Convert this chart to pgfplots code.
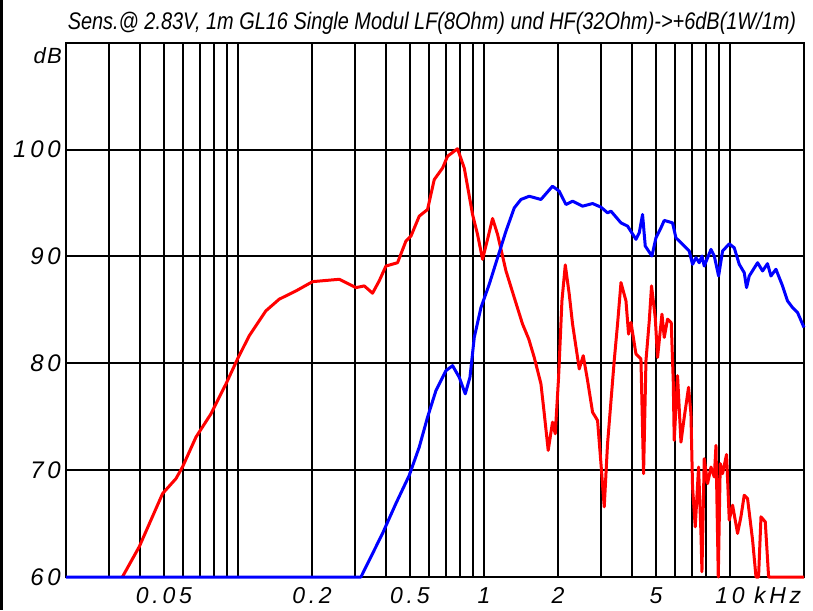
\documentclass[border=0pt]{standalone}
\usepackage{pgfplots}
\pgfplotsset{compat=1.18}
\usepackage{pgfplotstable}
\usepackage{fontspec}
\usepackage{graphicx}
\setmainfont{Liberation Sans}
\newfontfamily\lblfont[LetterSpace=16]{Liberation Sans}
\newfontfamily\dbfont[LetterSpace=6]{Liberation Sans}
\definecolor{cred}{RGB}{255,0,0}
\definecolor{cblue}{RGB}{0,0,255}

\pgfplotstableread{
f db
0.0339 60
0.0397 62.83
0.0494 67.81
0.0560 69.21
0.0595 70.29
0.0675 73.09
0.0777 75.27
0.0894 78.07
0.0996 80.40
0.1111 82.57
0.1299 84.91
0.1472 86.00
0.1721 86.77
0.2011 87.64
0.2581 87.86
0.3018 87.08
0.3262 87.24
0.3525 86.56
0.3752 87.71
0.3996 89.10
0.4454 89.41
0.4818 91.44
0.5050 91.90
0.5458 93.77
0.5898 94.39
0.6280 97.19
0.6788 98.27
0.7112 99.37
0.7807 100.08
0.8318 98.27
0.8988 93.93
0.9418 92.06
0.9870 89.73
1.034 91.59
1.084 93.55
1.136 92.06
1.229 88.64
1.328 86.15
1.435 83.67
1.521 82.27
1.601 80.55
1.705 78.07
1.759 75.27
1.825 71.85
1.900 74.49
1.949 73.40
2.011 78.69
2.075 85.84
2.141 89.20
2.222 86.46
2.292 83.67
2.440 79.47
2.533 80.71
2.638 78.38
2.764 75.42
2.896 74.65
2.990 70.61
3.083 66.56
3.180 72.47
3.385 80.24
3.492 83.67
3.606 87.55
3.779 85.84
3.872 82.73
3.960 83.82
4.149 80.87
4.347 80.40
4.455 69.67
4.556 80.24
4.699 83.97
4.800 87.24
4.969 84.28
5.078 80.55
5.292 84.60
5.407 82.42
5.576 84.13
5.772 83.79
5.881 78.38
5.936 72.78
6.124 78.84
6.322 72.62
6.520 74.95
6.788 77.75
6.942 75.27
7.047 68.42
7.227 64.69
7.455 70.29
7.624 64.08
7.696 60.49
7.863 71.07
8.110 68.74
8.373 70.29
8.636 69.36
8.774 72.31
8.965 60.0
9.132 70.61
9.331 69.67
9.688 71.47
9.935 65.32
10.25 66.72
10.74 64.08
11.08 65.63
11.43 67.65
11.79 67.34
12.36 63.45
12.76 60
13.07 60
13.37 65.63
13.92 65.16
14.36 60
20 60
}\lfdata

\pgfplotstableread{
f db
0.02 60
0.3162 60
0.3871 64.08
0.4387 66.88
0.4969 69.51
0.5458 72.16
0.5898 74.95
0.6380 77.44
0.7005 79.31
0.7456 79.78
0.7935 78.69
0.8395 77.14
0.8772 78.69
0.9134 82.42
0.9723 85.21
1.051 87.40
1.136 89.88
1.229 92.37
1.328 94.54
1.414 95.33
1.528 95.63
1.705 95.33
1.900 96.57
2.024 96.10
2.154 94.86
2.292 95.17
2.517 94.70
2.764 94.95
2.990 94.61
3.180 94.08
3.282 94.24
3.606 93.14
3.835 92.84
4.149 91.60
4.279 92.21
4.413 93.93
4.526 90.97
4.818 90.04
5.002 91.74
5.243 92.68
5.407 93.37
5.843 93.14
6.032 91.74
6.624 90.81
6.832 90.50
7.047 89.26
7.275 89.88
7.504 89.41
7.696 90.04
7.863 89.10
8.373 90.66
8.636 90.04
8.992 88.17
9.331 90.50
9.935 91.18
10.41 90.81
10.91 89.26
11.43 88.48
11.68 87.08
11.98 88.17
12.95 89.41
13.57 88.64
14.21 89.32
14.68 88.17
15.38 88.80
16.36 87.24
17.14 85.84
17.97 85.21
18.83 84.75
20 83.35
}\hfdata

\begin{document}
\begin{tikzpicture}
\useasboundingbox (-66pt,-33pt) rectangle (747pt,577pt);
\fill[black] (-66pt,-33pt) rectangle (-63pt,577pt);
\begin{axis}[
  at={(0pt,0pt)}, anchor=south west,
  scale only axis, width=738pt, height=534.3pt,
  xmode=log, xmin=0.02, xmax=20, ymin=60, ymax=110,
  xtick={0.05,0.2,0.5,1,2,5,10},
  xticklabels={0.05,0.2,0.5,1,2,5,10},
  minor xtick={0.03,0.04,0.05,0.06,0.07,0.08,0.09,0.1,0.2,0.3,0.4,0.5,0.6,0.7,0.8,0.9,1,2,3,4,5,6,7,8,9,10},
  ytick={60,70,80,90,100},
  yticklabels={60,70,80,90,100},
  xmajorgrids=false, xminorgrids=true, ymajorgrids=true,
  minor grid style={black, line width=2pt},
  major grid style={black, line width=2pt},
  axis line style={black, line width=2pt},
  major tick length=0pt, minor tick length=0pt,
  xticklabel style={font=\lblfont\itshape\fontsize{23}{23}\selectfont, anchor=base, yshift=-26pt, inner sep=0pt},
  yticklabel style={font=\lblfont\itshape\fontsize{24}{24}\selectfont, anchor=east, xshift=-5pt, inner sep=0pt},
  clip=false,
]
\addplot[cred, line width=3pt, line join=round] table[x=f, y=db] {\lfdata};
\addplot[cblue, line width=3pt, line join=round] table[x=f, y=db] {\hfdata};
\node[anchor=base west, font=\lblfont\itshape\fontsize{23}{23}\selectfont, inner sep=0pt] at (axis cs:10,60) [xshift=24pt, yshift=-26pt] {kHz};
\node[anchor=base east, font=\dbfont\itshape\fontsize{22}{22}\selectfont, inner sep=0pt] at (rel axis cs:0,1) [xshift=-4pt, yshift=-21pt] {dB};
\node[anchor=base, inner sep=0pt] at (rel axis cs:0.5,1) [yshift=13pt, xshift=-3pt] {\scalebox{0.83}[1]{\fontsize{24}{24}\selectfont\itshape Sens.@ 2.83V, 1m GL16 Single Modul LF(8Ohm) und HF(32Ohm)->+6dB(1W/1m)}};
\end{axis}
\end{tikzpicture}
\end{document}
